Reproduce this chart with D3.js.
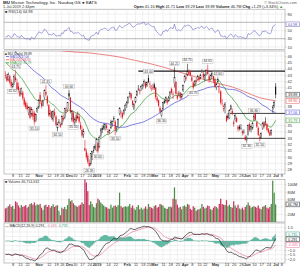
<!DOCTYPE html>
<html><head><meta charset="utf-8">
<script src="https://cdn.jsdelivr.net/npm/d3@7"></script>
<style>body{margin:0;background:#fff}svg{display:block;font-family:"Liberation Sans",Arial,sans-serif}</style>
</head><body><svg id="c" width="300" height="270"></svg>
<script>
// ---------- DATA ----------
const monthKeys = ['2018-10','2018-11','2018-12','2019-01','2019-02','2019-03','2019-04','2019-05','2019-06','2019-07'];
const monthDays = [
 [1,2,3,4,5,8,9,10,11,12,15,16,17,18,19,22,23,24,25,26,29,30,31],
 [1,2,5,6,7,8,9,12,13,14,15,16,19,20,21,23,26,27,28,29,30],
 [3,4,6,7,10,11,12,13,14,17,18,19,20,21,24,26,27,28,31],
 [2,3,4,7,8,9,10,11,14,15,16,17,18,22,23,24,25,28,29,30,31],
 [1,4,5,6,7,8,11,12,13,14,15,19,20,21,22,25,26,27,28],
 [1,4,5,6,7,8,11,12,13,14,15,18,19,20,21,22,25,26,27,28,29],
 [1,2,3,4,5,8,9,10,11,12,15,16,17,18,22,23,24,25,26,29,30],
 [1,2,3,6,7,8,9,10,13,14,15,16,17,20,21,22,23,24,28,29,30,31],
 [3,4,5,6,7,10,11,12,13,14,17,18,19,20,21,24,25,26,27,28],
 [1,2,3,5,8]
];
// closes before the visible window (Jul 19 - Sep 28 2018), used to warm up indicators
const preClose = [55.0,54.2,54.9,54.6,55.9,54.0,52.0,50.5,52.8,
 53.6,53.9,51.9,52.3,51.3,50.9,49.7,49.2,49.4,49.8,47.0,47.4,46.3,45.5,46.9,47.0,46.9,47.7,49.6,49.7,51.4,52.3,52.4,
 50.6,48.6,46.2,44.5,44.2,45.6,45.1,45.3,44.4,42.4,43.6,44.5,45.2,45.0,44.3,44.0,43.8,44.1,43.4];
const open = [
 43.0,42.8,42.3,42.8,41.9,41.1,41.6,42.6,41.8,41.2,40.4,40.1,40.2,39.2,38.6,38.2,37.0,37.9,36.8,37.0,37.0,35.8,37.2,
 37.9,39.8,38.6,38.2,39.4,40.3,39.6,38.2,36.8,37.2,36.0,37.1,36.4,34.6,35.6,35.2,35.2,36.2,36.3,37.4,37.5,
 40.1,39.4,36.0,37.0,35.5,36.6,36.4,36.4,35.1,34.3,33.6,31.4,30.9,30.2,29.1,28.9,30.0,31.1,31.4,
 31.0,32.2,31.6,33.4,34.6,34.6,34.5,35.0,34.1,34.0,34.6,35.3,36.0,35.6,34.5,34.8,36.9,37.0,36.9,36.9,37.6,
 38.3,38.8,39.7,40.0,38.9,37.7,38.7,39.8,40.8,40.4,41.0,41.0,41.6,41.8,41.4,42.5,41.6,40.9,41.0,
 41.5,41.0,39.4,39.0,37.8,36.6,37.6,38.9,38.9,39.0,38.9,39.7,40.8,40.0,41.6,41.9,39.7,39.9,40.2,39.5,40.6,
 42.0,42.6,43.0,43.6,43.4,42.6,41.8,41.4,42.2,42.3,42.6,42.5,43.5,43.2,42.3,43.1,43.8,42.8,42.3,43.0,42.8,
 42.3,41.0,41.9,40.2,40.4,38.5,37.6,37.8,36.5,36.2,36.1,37.6,37.3,35.5,35.9,36.2,34.8,34.8,34.6,34.1,34.0,33.2,
 32.8,33.6,35.2,34.4,34.6,35.9,36.9,35.5,34.6,33.1,33.0,34.5,35.5,35.6,35.2,34.4,33.9,33.8,37.5,38.1,
 41.16];
const high = [
 43.6,43.2,43.4,43.0,42.3,41.8,43.1,43.75,42.4,41.8,40.9,41.0,40.5,39.5,38.9,38.6,38.0,38.1,37.9,37.6,37.3,36.9,38.0,
 39.2,40.3,38.9,39.1,40.7,41.35,39.8,38.4,37.5,37.3,37.4,37.7,36.6,35.5,36.0,35.5,36.6,36.7,37.8,37.9,38.7,
 40.6,39.5,37.4,37.3,36.3,36.9,37.2,36.9,35.6,34.9,34.5,32.7,31.3,30.6,29.6,30.6,31.0,31.7,32.0,
 33.0,32.3,33.4,34.6,35.0,35.3,35.3,35.3,34.5,34.4,35.9,35.8,36.5,35.8,34.9,36.1,37.9,37.4,37.2,37.6,38.5,
 38.9,39.6,40.4,40.2,39.0,38.5,39.6,40.6,41.4,40.9,41.5,41.6,42.3,42.0,42.0,43.0,42.0,41.4,41.6,
 41.8,41.1,39.7,39.1,38.0,37.5,38.7,39.2,39.6,39.3,39.7,40.5,41.0,40.4,44.21,42.0,40.2,40.5,40.3,40.1,41.5,
 43.0,43.3,44.75,43.9,43.7,42.9,42.0,42.2,42.5,43.0,42.9,43.2,43.9,43.5,43.2,43.9,44.61,43.2,43.1,43.6,42.9,
 42.6,41.8,42.6,41.6,40.6,39.2,38.3,38.7,36.7,36.9,37.6,38.3,37.7,35.8,36.8,36.4,35.0,35.1,35.2,34.3,34.4,33.5,
 33.4,35.2,35.5,35.0,35.6,36.8,37.0,35.7,34.8,33.6,33.9,35.6,35.7,36.3,35.4,34.6,34.2,34.4,38.2,38.9,
 41.71];
const low = [
 42.4,41.9,42.0,41.5,40.9,41.02,41.4,41.9,40.5,40.2,39.5,39.8,39.0,38.0,37.6,37.4,36.6,36.0,36.4,35.9,35.1,35.5,37.0,
 37.6,38.4,37.7,38.0,39.1,39.7,38.1,36.4,36.3,35.9,35.6,36.3,34.9,34.1,35.2,34.6,35.0,35.6,36.0,36.9,37.2,
 39.2,36.9,35.6,35.3,34.9,35.4,36.0,35.3,34.3,33.1,33.0,30.9,29.6,28.9,28.39,28.6,29.5,30.6,31.1,
 30.9,30.6,31.4,33.1,33.8,34.3,34.2,34.3,33.6,33.7,34.4,34.8,35.5,33.5,33.9,34.6,36.6,36.2,36.0,36.6,37.3,
 37.8,38.5,39.4,39.0,37.9,37.4,38.5,39.6,40.5,39.9,40.5,40.7,41.3,40.8,41.1,41.7,41.0,40.4,40.6,
 40.6,39.1,38.6,37.9,36.9,36.3,37.4,38.4,38.6,38.3,38.7,39.5,39.9,39.2,41.0,39.9,39.0,39.6,39.0,39.2,40.3,
 41.7,42.1,42.8,42.9,42.8,41.9,40.7,41.2,41.5,42.1,41.9,42.3,43.3,42.3,42.0,42.9,43.0,41.8,42.1,42.6,41.7,
 41.0,40.6,41.7,40.1,38.3,38.1,37.2,36.9,35.5,35.9,36.0,37.4,36.6,34.8,35.6,35.4,34.0,34.2,34.3,33.4,33.6,32.6,
 32.3,33.4,34.0,33.9,34.3,35.7,35.8,34.6,33.3,32.5,32.9,34.3,34.5,35.0,34.1,33.7,33.3,33.4,37.0,37.8,
 39.29];
const close = [
 42.9,42.1,43.1,41.8,41.2,41.5,42.8,42.2,40.7,40.6,39.7,40.8,39.3,38.3,37.9,37.6,37.8,36.2,37.5,36.4,35.6,36.7,37.7,
 39.0,38.8,38.1,38.9,40.5,39.9,38.5,36.6,36.9,36.2,37.2,36.6,35.1,35.2,35.4,34.8,36.4,35.9,37.7,37.3,38.6,
 39.6,37.1,37.2,35.6,36.0,35.7,36.2,35.6,34.5,33.4,34.0,31.0,30.0,29.2,28.6,30.5,30.9,31.0,31.7,
 32.8,30.9,33.1,34.3,34.3,34.9,35.2,34.6,33.8,34.2,35.5,35.6,36.1,34.3,34.5,35.9,37.7,36.9,36.3,37.4,38.2,
 38.6,39.5,40.1,39.3,38.3,38.4,39.4,40.4,40.7,40.6,41.2,41.4,42.0,41.0,41.8,41.9,41.5,41.1,40.9,
 40.9,39.5,38.9,38.1,37.2,37.3,38.6,38.6,39.4,38.6,39.5,40.3,40.2,39.9,42.6,40.0,39.3,40.0,39.4,39.9,41.3,
 42.8,42.4,43.5,43.2,43.0,42.1,41.0,42.0,41.9,42.8,42.2,43.0,43.6,42.6,43.0,43.7,43.2,42.2,42.9,43.2,42.1,
 41.1,41.5,42.3,41.2,38.6,38.5,38.0,38.4,35.7,36.5,37.4,38.1,36.9,35.2,36.6,35.6,34.4,34.5,34.6,33.8,33.9,32.7,
 33.0,35.0,34.3,34.8,35.3,36.4,35.9,34.8,33.5,32.9,33.7,35.3,34.8,35.5,34.3,33.9,33.4,34.2,37.9,38.6,
 39.89];
const volume = [ // millions of shares
 36,38,42,47,40,43,35,55,52,44,38,45,40,42,45,38,41,48,50,46,52,44,47,
 45,48,38,32,44,46,40,45,38,42,47,40,43,45,30,18,38,35,40,34,45,
 62,55,58,50,45,42,40,44,46,52,48,115,105,82,45,55,48,40,38,
 50,62,58,52,48,44,40,39,36,35,46,38,42,44,40,45,78,42,38,40,42,
 40,42,48,38,44,36,32,40,45,34,38,33,36,41,35,48,40,38,36,
 42,45,38,40,48,46,44,38,36,35,40,41,39,62,92,60,46,38,40,34,42,
 44,40,48,46,35,32,42,38,30,33,34,36,48,40,36,38,44,42,34,32,38,
 42,40,36,48,62,48,46,45,58,42,46,40,38,55,44,38,46,36,34,38,33,40,
 45,52,44,38,40,42,40,38,44,36,34,40,42,45,38,36,40,48,110,78,
 46.714632];
// 200-day moving average (trading-day index, value)
const ma200Idx = [0,10,20,30,40,50,58,65,72,80,90,100,110,120,130,143,150,157,165,176,182,187];
const ma200Val = [48.6,48.0,47.5,47.1,46.8,46.6,46.5,46.3,46.1,45.8,45.3,44.8,44.2,43.5,42.8,41.9,41.5,41.1,40.4,39.4,39.1,38.9];
// x-axis ticks
const tickDates = ['2018-10-08','2018-10-15','2018-10-22','2018-11-01','2018-11-12','2018-11-19','2018-11-26','2018-12-03','2018-12-10','2018-12-17','2018-12-24','2019-01-02','2019-01-14','2019-01-22','2019-02-01','2019-02-11','2019-02-19','2019-02-25','2019-03-01','2019-03-11','2019-03-18','2019-03-25','2019-04-01','2019-04-08','2019-04-15','2019-04-22','2019-05-01','2019-05-13','2019-05-20','2019-05-28','2019-06-03','2019-06-10','2019-06-17','2019-06-24','2019-07-01','2019-07-08'];
const tickLabels = ['8','15','22','Nov','12','19','26','Dec','10','17','24','2019','14','22','Feb','11','19','25','Mar','11','18','25','Apr','8','15','22','May','13','20','28','Jun','10','17','24','Jul','8'];
// swing point annotations (trading-day index, H = high / L = low)
const swingIdx  = [5,7,20,28,36,44,47,58,64,76,99,108,117,126,130,140,147,167,172,176];
const swingKind = ['L','H','L','H','L','H','L','L','L','L','H','L','H','H','L','H','H','L','H','L'];
// drawn horizontal levels (start index, value, weight)
const levelStart = [92,154,154];
const levelValue = [43.6,36.9,32.95];
const levelWeight = [1.3,0.8,0.8];
const priceTicks = [28,29,30,31,32,33,34,35,36,37,38,39,40,41,42,43,44,45,46];
const volTicks = [20,40,60,80,100];
const rsiTicks = [10,30,50,70,90];

// ---------- LAYOUT ----------
const svg = d3.select('#c');
const X0 = 4, X1 = 285;
const P = {rsi:[9.2,49.5], price:[51,174], vol:[179.5,222], macd:[223,263]};
const dates = [];
monthKeys.forEach((m,k)=>monthDays[k].forEach(d=>dates.push(m+'-'+String(d).padStart(2,'0'))));
const n = close.length;
const x = d3.scaleLinear().domain([-1,193.5]).range([X0,X1]);
const tickIdx = tickDates.map(d=>dates.indexOf(d));

// ---------- INDICATORS ----------
const all = preClose.concat(close), off = preClose.length;
function ema(a,p){const k=2/(p+1);const e=[a[0]];for(let i=1;i<a.length;i++)e.push(a[i]*k+e[i-1]*(1-k));return e;}
const ema20 = ema(all,20).slice(off);
const ma50 = all.map((v,i)=>i<49?null:d3.mean(all.slice(i-49,i+1))).slice(off);
const e12=ema(all,12), e26=ema(all,26);
const macdAll = e12.map((v,i)=>v-e26[i]);
const sigAll = ema(macdAll,9);
const macd = macdAll.slice(off), sig = sigAll.slice(off), hist = macd.map((v,i)=>v-sig[i]);
function rsiCalc(c,p){const r=c.map(()=>null);let g=0,l=0;for(let i=1;i<=p;i++){const d=c[i]-c[i-1];if(d>0)g+=d;else l-=d;}g/=p;l/=p;r[p]=100-100/(1+g/l);
 for(let i=p+1;i<c.length;i++){const d=c[i]-c[i-1];g=(g*(p-1)+Math.max(d,0))/p;l=(l*(p-1)+Math.max(-d,0))/p;r[i]=100-100/(1+g/l);}return r;}
const rsi = rsiCalc(all,14).slice(off);
const last = n-1;

// ---------- HELPERS ----------
const TXT = '#333';
function frame(p){
  svg.append('rect').attr('x',X0).attr('y',p[0]).attr('width',X1-X0).attr('height',p[1]-p[0])
    .attr('fill','#fff').attr('stroke','#9a9a9a').attr('stroke-width',0.6);
  const g = svg.append('g');
  tickIdx.forEach(i=>{ if(i<0) return; g.append('line').attr('x1',x(i)).attr('x2',x(i)).attr('y1',p[0]).attr('y2',p[1])
     .attr('stroke','#e3e3e3').attr('stroke-width',0.5); });
}
function hgrid(p,scale,vals,strong){
  vals.forEach(v=>{ const yy=scale(v); if(yy<p[0]||yy>p[1]) return;
    const s = strong&&strong.includes(v);
    svg.append('line').attr('x1',X0).attr('x2',X1).attr('y1',yy).attr('y2',yy)
      .attr('stroke',s?'#8a8a8a':'#e3e3e3').attr('stroke-width',s?0.6:0.5); });
}
function layoutBoxes(items,gap){
  items.sort((a,b)=>a.y-b.y);
  for(let i=1;i<items.length;i++) if(items[i].y-items[i-1].y<gap) items[i].y=items[i-1].y+gap;
  return items;
}
function rightAxis(scale,vals,fmt,boxes){
  const keep = vals.filter(v=>!boxes.some(b=>Math.abs(scale(v)-b.y)<4.6));
  const ax = d3.axisRight(scale).tickValues(keep).tickSize(1.5).tickPadding(1).tickFormat(fmt);
  const g = svg.append('g').attr('transform',`translate(${X1},0)`).call(ax);
  g.select('.domain').remove();
  g.selectAll('line').attr('stroke','#999').attr('stroke-width',0.4);
  g.selectAll('text').attr('font-size',3.9).attr('fill',TXT);
}
function clip(id,p){
  svg.append('clipPath').attr('id',id).append('rect').attr('x',X0).attr('y',p[0]).attr('width',X1-X0).attr('height',p[1]-p[0]);
  return `url(#${id})`;
}
function drawBoxes(items){
  items.forEach(it=>{
    svg.append('rect').attr('x',286).attr('y',it.y-2.4).attr('width',13.4).attr('height',4.8)
      .attr('fill','#fff').attr('stroke',it.c).attr('stroke-width',0.5);
    svg.append('text').attr('x',292.7).attr('y',it.y+1.3).attr('text-anchor','middle').attr('font-size',3.7)
      .attr('fill',it.c).text(it.t);
  });
}
function xAxis(yPos){
  const ax = d3.axisBottom(x).tickValues(tickIdx).tickSize(0).tickPadding(0)
    .tickFormat((d,i)=>tickLabels[i]);
  const g = svg.append('g').attr('transform',`translate(0,${yPos})`).call(ax);
  g.select('.domain').remove();
  g.selectAll('text').attr('font-size',3.9).attr('fill',TXT)
    .attr('font-weight',(d,i)=>/^[A-Z]|2019/.test(tickLabels[i])?'bold':'normal');
}

// ---------- HEADER ----------
const h1 = svg.append('text').attr('x',3).attr('y',4).attr('font-size',4.4).attr('fill','#222');
h1.append('tspan').attr('font-weight','bold').text('MU');
h1.append('tspan').text(' Micron Technology, Inc.  Nasdaq GS ● BATS');
svg.append('text').attr('x',297).attr('y',4).attr('text-anchor','end').attr('font-size',3.8).attr('fill','#666').text('© StockCharts.com');
svg.append('text').attr('x',3).attr('y',8.3).attr('font-size',3.8).attr('fill','#333').text('1-Jul-2019 2:44pm');
const chg = close[last]-close[last-1];
const h2 = svg.append('text').attr('x',283).attr('y',8.3).attr('text-anchor','end').attr('font-size',3.9).attr('fill','#222');
[['Open',open[last].toFixed(2)],['High',high[last].toFixed(2)],['Low',low[last].toFixed(2)],['Last',close[last].toFixed(2)],
 ['Volume',volume[last].toFixed(1)+'M'],['Chg',`+${chg.toFixed(2)} (+${(chg/close[last-1]*100).toFixed(2)}%)`]].forEach(([k,v])=>{
  h2.append('tspan').attr('font-weight','bold').text(k+' ');
  h2.append('tspan').text(v+'  ');
});
h2.append('tspan').attr('fill','#2a9a2a').text('▲');

// ---------- RSI PANEL ----------
const yR = d3.scaleLinear().domain([0,100]).range([P.rsi[1]+1.5,P.rsi[0]+0.8]);
frame(P.rsi);
hgrid(P.rsi,yR,rsiTicks,[70,30]);
svg.append('path').attr('clip-path',clip('cr',P.rsi))
  .attr('d',d3.line().x((d,i)=>x(i)).y(d=>yR(d))(rsi))
  .attr('fill','none').attr('stroke','#7474c8').attr('stroke-width',0.65);
const bR = layoutBoxes([{y:yR(rsi[last]),t:rsi[last].toFixed(2),c:'#6666bb'}],5.2);
rightAxis(yR,rsiTicks,d3.format('d'),bR);
drawBoxes(bR);
svg.append('text').attr('x',5).attr('y',12.8).attr('font-size',3.9).attr('fill','#333')
  .text('■ RSI(14) '+rsi[last].toFixed(2));

// ---------- PRICE PANEL ----------
const y = d3.scaleLinear().domain([27.3,46.8]).range([P.price[1],P.price[0]]);
frame(P.price);
hgrid(P.price,y,priceTicks);
const cp = clip('cp',P.price);
const gP = svg.append('g').attr('clip-path',cp);
gP.append('path').attr('d',d3.line().curve(d3.curveMonotoneX).x((d,i)=>x(ma200Idx[i])).y(d=>y(d))(ma200Val))
  .attr('fill','none').attr('stroke','#e65a5a').attr('stroke-width',0.75);
gP.append('path').attr('d',d3.line().defined(d=>d!=null).x((d,i)=>x(i)).y(d=>y(d))(ma50))
  .attr('fill','none').attr('stroke','#5252d6').attr('stroke-width',0.75);
gP.append('path').attr('d',d3.line().x((d,i)=>x(i)).y(d=>y(d))(ema20))
  .attr('fill','none').attr('stroke','#3f9f3f').attr('stroke-width',0.75);
levelStart.forEach((s,k)=>gP.append('line').attr('x1',x(s)).attr('x2',X1).attr('y1',y(levelValue[k])).attr('y2',y(levelValue[k]))
  .attr('stroke','#1a1a1a').attr('stroke-width',levelWeight[k]));
// candles
close.forEach((c,i)=>{
  const prev = i? close[i-1] : preClose[preClose.length-1];
  const col = c<prev ? '#e4141e' : '#111';
  const up = c>open[i];
  gP.append('line').attr('x1',x(i)).attr('x2',x(i)).attr('y1',y(high[i])).attr('y2',y(low[i]))
    .attr('stroke',col).attr('stroke-width',0.55);
  const t = y(Math.max(open[i],c)), b = y(Math.min(open[i],c));
  gP.append('rect').attr('x',x(i)-0.55).attr('width',1.1).attr('y',t).attr('height',Math.max(b-t,0.4))
    .attr('fill',up?'#fff':col).attr('stroke',col).attr('stroke-width',up?0.35:0);
});
// swing labels
swingIdx.forEach((i,k)=>{
  const hi = swingKind[k]==='H';
  const v = hi?high[i]:low[i];
  const yy = y(v) + (hi?-3.7:3.7);
  gP.append('line').attr('x1',x(i)).attr('x2',x(i)).attr('y1',y(v)+(hi?-0.5:0.5)).attr('y2',yy+(hi?1.8:-1.8))
    .attr('stroke','#888').attr('stroke-width',0.3);
  gP.append('rect').attr('x',x(i)-5.3).attr('y',yy-2.0).attr('width',10.6).attr('height',4.1)
    .attr('fill','#fff').attr('stroke','#999').attr('stroke-width',0.35);
  gP.append('text').attr('x',x(i)).attr('y',yy+1.25).attr('text-anchor','middle').attr('font-size',3.4).attr('fill','#333')
    .text(v.toFixed(2));
});
const ma200Last = ma200Val[ma200Val.length-1];
const bP = layoutBoxes([{y:y(close[last]),t:close[last].toFixed(2),c:'#222'},
  {y:y(ma200Last),t:ma200Last.toFixed(2),c:'#e65a5a'},
  {y:y(ma50[last]),t:ma50[last].toFixed(2),c:'#5252d6'},
  {y:y(ema20[last]),t:ema20[last].toFixed(2),c:'#3f9f3f'}],5.2);
rightAxis(y,priceTicks,d3.format('d'),bP);
drawBoxes(bP);
// legend
const lg = [['■ MU (Daily) '+close[last].toFixed(2),'#222',null],
  ['MA(50) '+ma50[last].toFixed(2),'#5252d6',1],['MA(200) '+ma200Last.toFixed(2),'#e65a5a',1],['EMA(20) '+ema20[last].toFixed(2),'#3f9f3f',1]];
lg.forEach((d,k)=>{
  const yy = 54.6 + k*3.1;
  if(d[2]) svg.append('line').attr('x1',6).attr('x2',9).attr('y1',yy-1.1).attr('y2',yy-1.1).attr('stroke',d[1]).attr('stroke-width',0.8);
  svg.append('text').attr('x',d[2]?9.8:5).attr('y',yy).attr('font-size',3.2).attr('fill',d[1]).text(d[0]);
});
xAxis(P.price[1]+0.6);

// ---------- VOLUME PANEL ----------
const yV = d3.scaleLinear().domain([0,113]).range([P.vol[1],P.vol[0]]);
frame(P.vol);
hgrid(P.vol,yV,volTicks);
const gV = svg.append('g').attr('clip-path',clip('cv',P.vol));
volume.forEach((v,i)=>{
  const prev = i? close[i-1] : preClose[preClose.length-1];
  gV.append('rect').attr('x',x(i)-0.62).attr('width',1.24).attr('y',yV(v)).attr('height',yV(0)-yV(v))
    .attr('fill',close[i]<prev?'#c8325e':'#4b8d45');
});
const bV = layoutBoxes([{y:yV(volume[last]),t:volume[last].toFixed(1)+'M',c:'#222'}],5.2);
rightAxis(yV,volTicks,d=>d+'M',bV);
drawBoxes(bV);
svg.append('text').attr('x',5).attr('y',183.2).attr('font-size',3.6).attr('fill','#333')
  .text('■ Volume '+d3.format(',')(Math.round(volume[last]*1e6)));

// ---------- MACD PANEL ----------
const mx = d3.max(macd.concat(sig)), mn = d3.min(macd.concat(sig));
const yM = d3.scaleLinear().domain([mn-0.25,mx+0.35]).range([P.macd[1],P.macd[0]]);
const macdTicks = d3.range(Math.ceil((mn-0.25)*2)/2, mx+0.35, 0.5);
frame(P.macd);
hgrid(P.macd,yM,macdTicks);
const gM = svg.append('g').attr('clip-path',clip('cm',P.macd));
gM.append('path').attr('d',d3.area().x((d,i)=>x(i)).y0(yM(0)).y1(d=>yM(d)).curve(d3.curveStep)(hist))
  .attr('fill','#62b9a4').attr('stroke','#4aa48e').attr('stroke-width',0.2);
gM.append('path').attr('d',d3.line().x((d,i)=>x(i)).y(d=>yM(d))(sig))
  .attr('fill','none').attr('stroke','#e7779a').attr('stroke-width',0.7);
gM.append('path').attr('d',d3.line().x((d,i)=>x(i)).y(d=>yM(d))(macd))
  .attr('fill','none').attr('stroke','#222').attr('stroke-width',0.7);
const bM = layoutBoxes([{y:yM(macd[last]),t:macd[last].toFixed(3),c:'#222'},{y:yM(sig[last]),t:sig[last].toFixed(3),c:'#e7779a'},
  {y:yM(hist[last]),t:hist[last].toFixed(3),c:'#3a9a86'}],5.0);
rightAxis(yM,macdTicks,d3.format('.1f'),bM);
drawBoxes(bM);
const ml = svg.append('text').attr('x',5).attr('y',226.6).attr('font-size',3.6);
ml.append('tspan').attr('fill','#222').text('— MACD(12,26,9) '+macd[last].toFixed(3)+', ');
ml.append('tspan').attr('fill','#e7779a').text(sig[last].toFixed(3)+', ');
ml.append('tspan').attr('fill','#3a9a86').text(hist[last].toFixed(3));
xAxis(P.macd[1]+0.6);
</script></body></html>
